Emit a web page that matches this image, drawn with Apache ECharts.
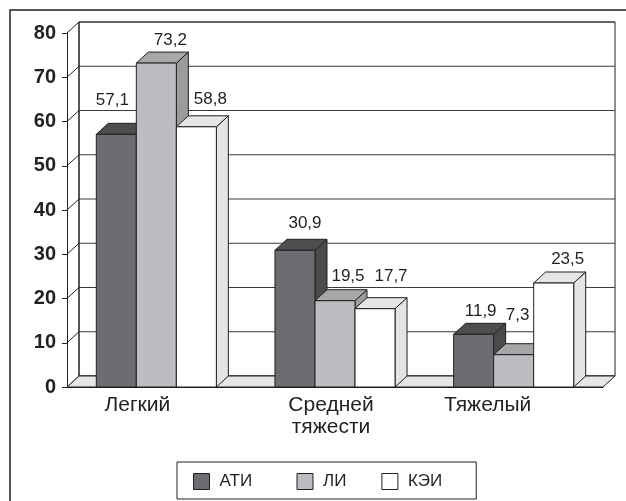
<!DOCTYPE html>
<html>
<head>
<meta charset="utf-8">
<script src="https://cdn.jsdelivr.net/npm/echarts@6/dist/echarts.min.js"></script>
<style>
  html, body { margin: 0; padding: 0; background: #fff; }
  #chart { width: 626px; height: 501px; }
</style>
</head>
<body>
<div id="chart"></div>
<script>
// Severity categories and shares (%) for each group
const categories = ['Легкий', 'Средней\nтяжести', 'Тяжелый'];
const seriesNames = ['АТИ', 'ЛИ', 'КЭИ'];
const atiValues = [57.1, 30.9, 11.9];
const liValues = [73.2, 19.5, 7.3];
const keiValues = [58.8, 17.7, 23.5];
const yTicks = [0, 10, 20, 30, 40, 50, 60, 70, 80];

// Pseudo-3D depth of the plot box and bars
const DEPTH_X = 12;
const DEPTH_Y = -11;
const INK = '#231f20';
const FONT = '"Liberation Sans", Arial, sans-serif';

// Face colours per series: front, top, side
const faces = [
  { front: '#6c6d70', top: '#4e4e51', side: '#4b4b4e' },
  { front: '#bcbdc0', top: '#a6a7a9', side: '#9b9c9e' },
  { front: '#ffffff', top: '#e6e6e6', side: '#e4e4e4' }
];

// Value-label nudges [dx, dy] from the top face of each bar
const labelShift = [
  [[-10, -23], [4, -16], [1, -12]],
  [[8, -12], [7, -13], [-2, -28]],
  [[8, -16], [10, -21], [8, -13]]
];

// Category label offset (px to the left of category centre)
const catShift = [19, 4, 26];

function fmt(v) { return v.toFixed(1).replace('.', ','); }

function renderWalls(params, api) {
  const cs = params.coordSys;
  const x0 = cs.x, x1 = cs.x + cs.width;
  const yBot = api.coord([0, 0])[1];
  const yTop = api.coord([0, yTicks[yTicks.length - 1]])[1];
  const children = [];
  // back wall
  children.push({
    type: 'polygon',
    shape: { points: [[x0 + DEPTH_X, yTop + DEPTH_Y], [x1 + DEPTH_X, yTop + DEPTH_Y],
                      [x1 + DEPTH_X, yBot + DEPTH_Y], [x0 + DEPTH_X, yBot + DEPTH_Y]] },
    style: { fill: '#ffffff', stroke: INK, lineWidth: 1 }
  });
  // gridlines on the back wall and the side wall
  yTicks.forEach(function (v) {
    const y = api.coord([0, v])[1];
    children.push({
      type: 'line',
      shape: { x1: x0 + DEPTH_X, y1: y + DEPTH_Y, x2: x1 + DEPTH_X, y2: y + DEPTH_Y },
      style: { stroke: '#3a3a3a', lineWidth: 1 }
    });
    children.push({
      type: 'line',
      shape: { x1: x0, y1: y, x2: x0 + DEPTH_X, y2: y + DEPTH_Y },
      style: { stroke: INK, lineWidth: 1 }
    });
  });
  // back-left corner edge
  children.push({
    type: 'line',
    shape: { x1: x0 + DEPTH_X, y1: yTop + DEPTH_Y, x2: x0 + DEPTH_X, y2: yBot + DEPTH_Y },
    style: { stroke: INK, lineWidth: 1 }
  });
  // floor
  children.push({
    type: 'polygon',
    shape: { points: [[x0, yBot], [x1, yBot], [x1 + DEPTH_X, yBot + DEPTH_Y], [x0 + DEPTH_X, yBot + DEPTH_Y]] },
    style: { fill: '#e6e6e6', stroke: INK, lineWidth: 1 }
  });
  return { type: 'group', children: children };
}

function barRenderer(s) {
  return function (params, api) {
    const idx = api.value(0);
    const val = api.value(1);
    const top = api.coord([idx, val]);
    const base = api.coord([idx, 0]);
    const band = api.size([1, 0])[0];
    const w = band * 0.224;
    const x = top[0] - 1.5 * w + s * w;
    const yT = top[1], yB = base[1];
    const f = faces[s];
    const sh = labelShift[s][params.dataIndex];
    return {
      type: 'group',
      children: [
        { type: 'polygon',
          shape: { points: [[x + w, yT], [x + w + DEPTH_X, yT + DEPTH_Y], [x + w + DEPTH_X, yB + DEPTH_Y], [x + w, yB]] },
          style: { fill: f.side, stroke: INK, lineWidth: 1 } },
        { type: 'polygon',
          shape: { points: [[x, yT], [x + w, yT], [x + w + DEPTH_X, yT + DEPTH_Y], [x + DEPTH_X, yT + DEPTH_Y]] },
          style: { fill: f.top, stroke: INK, lineWidth: 1 } },
        { type: 'rect',
          shape: { x: x, y: yT, width: w, height: yB - yT },
          style: { fill: f.front, stroke: INK, lineWidth: 1 } },
        { type: 'text',
          style: { text: fmt(val), x: x + w / 2 + DEPTH_X / 2 + sh[0], y: yT + DEPTH_Y + sh[1],
                   align: 'center', verticalAlign: 'middle',
                   fontSize: 17, fontFamily: FONT, fill: INK } }
      ]
    };
  };
}

const seriesValues = [atiValues, liValues, keiValues];

const rich = {};
catShift.forEach(function (d, i) {
  rich['c' + i] = { fontSize: 21, fontFamily: FONT, color: INK, lineHeight: 22, padding: [0, 2 * d, 0, 0] };
});

const option = {
  animation: false,
  backgroundColor: '#ffffff',
  graphic: [{
    type: 'rect',
    shape: { x: 10, y: 10, width: 700, height: 600 },
    style: { fill: 'none', stroke: INK, lineWidth: 1.5 },
    z: 100
  }],
  grid: { left: 67, right: 23, top: 33, bottom: 114, containLabel: false },
  xAxis: {
    type: 'category',
    data: categories,
    axisLine: { lineStyle: { color: INK, width: 1 } },
    axisTick: { length: 5, lineStyle: { color: INK } },
    axisLabel: {
      margin: 7,
      fontSize: 21, fontFamily: FONT, color: INK, lineHeight: 22,
      formatter: function (v, i) {
        return v.split('\n').map(function (l) { return '{c' + i + '|' + l + '}'; }).join('\n');
      },
      rich: rich
    }
  },
  yAxis: {
    type: 'value',
    min: 0, max: 80, interval: 10,
    axisLine: { show: true, lineStyle: { color: INK, width: 1 } },
    axisTick: { show: true, length: 5, lineStyle: { color: INK } },
    splitLine: { show: false },
    axisLabel: { margin: 11, fontSize: 20, fontWeight: 'bold', fontFamily: FONT, color: INK }
  },
  legend: {
    left: 177, top: 462,
    padding: [11, 34, 9, 16],
    itemWidth: 16, itemHeight: 16, itemGap: 35,
    icon: 'rect',
    borderColor: INK, borderWidth: 1,
    itemStyle: { borderColor: INK, borderWidth: 1 },
    textStyle: { fontSize: 17, fontFamily: FONT, color: INK, padding: [0, 0, 0, 5], lineHeight: 16 },
    data: [{ name: 'АТИ', textStyle: { width: 42 } }, 'ЛИ', 'КЭИ']
  },
  series: [{
    type: 'custom',
    name: 'walls',
    renderItem: renderWalls,
    data: [[0, 0]],
    z: 1,
    silent: true
  }].concat(seriesNames.map(function (name, s) {
    return {
      type: 'custom',
      name: name,
      renderItem: barRenderer(s),
      encode: { x: 0, y: 1 },
      itemStyle: { color: faces[s].front, borderColor: INK, borderWidth: 1 },
      data: seriesValues[s].map(function (v, i) { return [i, v]; }),
      z: 2
    };
  }))
};

echarts.init(document.getElementById('chart')).setOption(option);
</script>
</body>
</html>
